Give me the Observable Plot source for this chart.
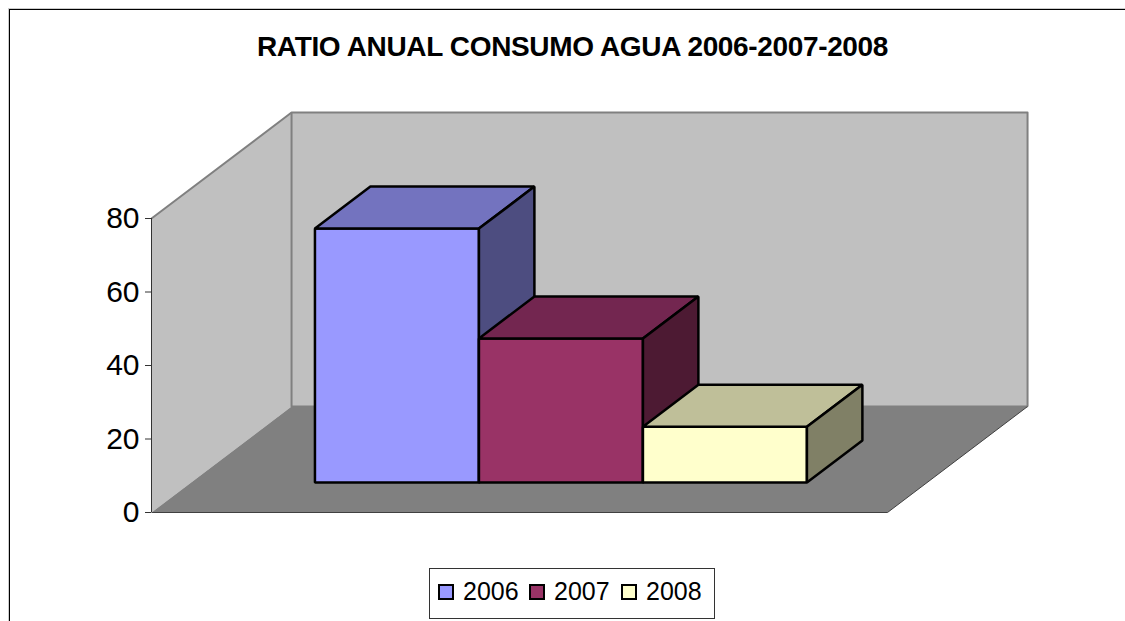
<!DOCTYPE html>
<html>
<head>
<meta charset="utf-8">
<script src="https://cdn.jsdelivr.net/npm/d3@7"></script>
<script src="https://cdn.jsdelivr.net/npm/@observablehq/plot@0.6"></script>
<style>
html,body{margin:0;padding:0;background:#fff;overflow:hidden;width:1125px;height:621px;font-family:"Liberation Sans",Arial,sans-serif;color:#000}
#page{position:relative;width:1125px;height:621px;overflow:hidden}
#frame{position:absolute;left:9px;top:9px;width:1200px;height:700px;border-left:1px solid #000;border-top:1px solid #000;box-shadow:-1px -1px 0 #ccc;pointer-events:none}
#title{position:relative;height:90px;box-sizing:border-box;padding-top:29px;padding-left:257px;font-size:28px;line-height:36px;font-weight:bold;letter-spacing:-0.35px;white-space:nowrap}
#chart svg{display:block}
#legend{position:absolute;left:429px;top:568px;width:284px;height:49px;border:1px solid #333;box-sizing:content-box;background:#fff}
#legend .sw{position:absolute;top:15px;width:12px;height:12px;border:2px solid #000}
#legend .lb{position:absolute;top:7px;font-size:25px;line-height:30px}
</style>
</head>
<body>
<div id="page">
  <div id="frame"></div>
  <div id="title"></div>
  <div id="chart"></div>
  <div id="legend"></div>
</div>
<script>
// Data
const titleText = "RATIO ANUAL CONSUMO AGUA 2006-2007-2008";
const years = ["2006", "2007", "2008"];
const ratios = [69.1, 39.2, 15.2];
const yTicks = [0, 20, 40, 60, 80];

// Colours
const frontColors = ["#9999ff", "#993366", "#ffffcc"];
const topColors   = ["#7373bf", "#732650", "#bfbf99"];
const sideColors  = ["#4d4d80", "#4d1a33", "#808066"];

// Oblique 3D frame, in data units
const xSpan = 4.488;      // floor width, in bar widths
const yMax = 80;
const depthX = 0.854;     // x shift of the full floor depth
const depthY = 28.84;     // y shift of the full floor depth
const barStart = 0.755;   // gap before the first bar
const barNear = 0.283;    // bar front, as a share of floor depth
const barFar = 0.679;     // bar back, as a share of floor depth

const P = (x, v, d) => ({x: x + d * depthX, y: v + d * depthY});
const face = (pts, fill, stroke, strokeWidth) => Plot.line(pts, {
  x: "x", y: "y", fill, stroke, strokeWidth,
  curve: "linear-closed", strokeLinejoin: "miter", strokeLinecap: "butt"
});
const edge = (pts, stroke, strokeWidth) => Plot.line(pts, {
  x: "x", y: "y", stroke, strokeWidth, strokeLinecap: "butt"
});

const walls = [
  face([P(0,0,0), P(0,yMax,0), P(0,yMax,1), P(0,0,1)], "#c0c0c0", "none", 0),
  face([P(0,0,1), P(0,yMax,1), P(xSpan,yMax,1), P(xSpan,0,1)], "#c0c0c0", "none", 0),
  edge([P(0,yMax,0), P(0,yMax,1), P(xSpan,yMax,1), P(xSpan,0,1)], "#808080", 2),
  edge([P(0,yMax,1), P(0,0,1), P(xSpan,0,1)], "#808080", 2),
  face([P(0,0,0), P(xSpan,0,0), P(xSpan,0,1), P(0,0,1)], "#808080", "none", 0),
  edge([P(0,0,0), P(xSpan,0,0), P(xSpan,0,1)], "#404040", 1)
];

const bars = years.flatMap((yr, i) => {
  const x0 = barStart + i, x1 = x0 + 1, v = ratios[i];
  const n = barNear, f = barFar;
  return [
    face([P(x0,0,n), P(x1,0,n), P(x1,v,n), P(x0,v,n)], frontColors[i], "#000", 2.5),
    face([P(x0,v,n), P(x1,v,n), P(x1,v,f), P(x0,v,f)], topColors[i], "#000", 2.5),
    face([P(x1,0,n), P(x1,0,f), P(x1,v,f), P(x1,v,n)], sideColors[i], "#000", 2.5)
  ];
});

const chart = Plot.plot({
  width: 1125,
  height: 440,
  marginLeft: 151,
  marginRight: 238,
  marginTop: 128,
  marginBottom: 18,
  style: {background: "transparent", overflow: "visible", fontFamily: '"Liberation Sans", Arial, sans-serif'},
  x: {domain: [0, xSpan], axis: null},
  y: {domain: [0, yMax], axis: null},
  marks: [
    ...walls,
    ...bars,
    Plot.ruleX([0], {y1: 0, y2: yMax, stroke: "#333", strokeWidth: 1}),
    Plot.axisY({
      ticks: yTicks, tickFormat: d => String(d), label: null,
      tickSize: 6, tickPadding: 6, stroke: "#333", color: "#000",
      fontSize: 30
    })
  ]
});
document.getElementById("chart").appendChild(chart);
document.getElementById("title").textContent = titleText;

const legendLeft = [8, 99, 191];
const legend = document.getElementById("legend");
years.forEach((yr, i) => {
  const s = document.createElement("div");
  s.className = "sw";
  s.style.left = legendLeft[i] + "px";
  s.style.background = frontColors[i];
  legend.appendChild(s);
  const t = document.createElement("div");
  t.className = "lb";
  t.style.left = (legendLeft[i] + 25) + "px";
  t.textContent = yr;
  legend.appendChild(t);
});
</script>
</body>
</html>
